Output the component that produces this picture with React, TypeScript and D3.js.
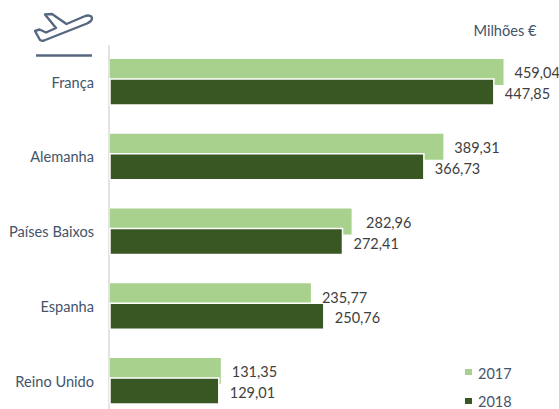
import React from "react";
import * as d3 from "d3";

const categories = ["França", "Alemanha", "Países Baixos", "Espanha", "Reino Unido"];
const values2017 = [459.04, 389.31, 282.96, 235.77, 131.35];
const values2018 = [447.85, 366.73, 272.41, 250.76, 129.01];
const years = ["2017", "2018"];
const unitLabel = "Milhões €";

const W = 559, H = 409;
const LIGHT = "#a9d18e", DARK = "#385723", TXT = "#44546a", NUM = "#404040";
const font = "Lato, 'Noto Sans', sans-serif";
const fmt = (v: number) => v.toFixed(2).replace(".", ",");

const x = d3.scaleLinear().domain([0, 459.04]).range([107.5, 503.5]);
const BASE = 110;
const y = d3.scaleBand().domain(categories).range([46.67, 422.67]).paddingInner(0.3).paddingOuter(0.165);
const barH = 26;

export default function App() {
  return (
    <svg width={W} height={H} viewBox={`0 0 ${W} ${H}`}
      style={{ position: "absolute", left: 0, top: 0, background: "#fff" }} fontFamily={font}>
      {/* plane icon */}
      <g fill="none" stroke="#56687f" strokeWidth={2.4} strokeLinejoin="round">
        <path d="M45 14.5 L52 14 L66.5 24 L84 16.5 C89 14.5 92 16 92 18.5 C92 20.5 90 22 87 23.5 L44 40.5 C42 41 41 41 40 40 L35 31 L39.5 29.5 L46 32.5 L56 28 Z" />
      </g>
      <line x1={36} x2={92} y1={55.5} y2={55.5} stroke="#56687f" strokeWidth={2.4} />
      <text x={505} y={36} textAnchor="middle" fontSize={14.6} fill={TXT}>{unitLabel}</text>
      <line x1={109} x2={109} y1={45} y2={H} stroke="#d0d0d0" strokeWidth={1.2} />
      {categories.map((c, i) => {
        const y0 = y(c)!;
        return (
          <g key={c}>
            <rect x={BASE} y={y0} width={x(values2017[i]) - BASE} height={barH} fill={LIGHT} />
            <rect x={BASE} y={y0 + 20} width={x(values2018[i]) - BASE} height={barH}
              fill={DARK} stroke="#fff" strokeWidth={1.5} />
            <text x={94} y={y0 + 23.5} dy="0.35em" textAnchor="end" fontSize={14.6} fill={TXT}>{c}</text>
            <text x={x(values2017[i]) + (i === 2 ? 14.5 : 11)} y={y0 + 14.3} dy="0.35em" fontSize={14.5} fill={NUM}>{fmt(values2017[i])}</text>
            <text x={x(values2018[i]) + 11} y={y0 + 35} dy="0.35em" fontSize={14.5} fill={NUM}>{fmt(values2018[i])}</text>
          </g>
        );
      })}
      {years.map((yr, i) => (
        <g key={yr}>
          <rect x={465} y={369 + i * 29} width={7} height={6} fill={i === 0 ? LIGHT : DARK} />
          <text x={478} y={373.5 + i * 28.4} dy="0.35em" fontSize={14.5} fill={TXT}>{yr}</text>
        </g>
      ))}
    </svg>
  );
}
